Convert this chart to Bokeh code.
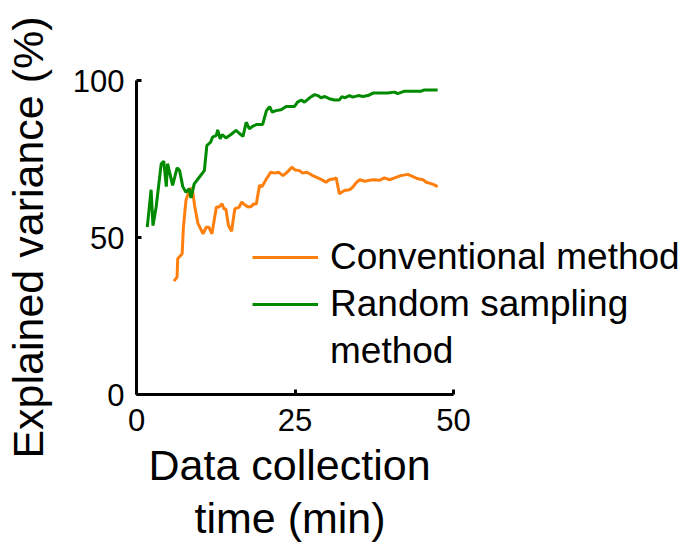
from bokeh.plotting import figure
from bokeh.models import Range1d, Legend, LegendItem, FixedTicker, Title
from bokeh.embed import file_html
from bokeh.resources import INLINE

# Conventional method (orange)
conv_time = [5.9, 6.4, 6.5, 7.2, 7.4, 7.8, 8.4, 8.8, 9.2, 9.7,
             10.5, 11.0, 11.4, 11.9, 12.6, 13.0, 13.5, 13.8, 14.1, 14.5,
             15.0, 15.5, 16.2, 16.6, 17.0, 17.6, 18.1, 18.5, 18.9, 19.4,
             19.8, 20.5, 21.2, 21.8, 22.4, 23.1, 23.6, 24.0, 24.5, 25.0,
             25.7, 26.2, 26.8, 27.3, 27.8, 28.6, 29.4, 29.9, 30.4, 31.2,
             31.5, 32.0, 32.8, 33.6, 34.1, 34.6, 35.2, 36.0, 36.7, 37.5,
             38.3, 39.1, 39.9, 40.7, 41.7, 42.8, 43.6, 44.4, 45.2, 45.7,
             46.2, 46.8, 47.5]
conv_var = [36.1, 37.4, 43.2, 44.8, 53.3, 61.8, 65.5, 65.5, 59.7, 54.4,
            51.2, 53.3, 53.3, 51.2, 59.7, 59.7, 60.7, 59.1, 59.1, 53.8,
            52.0, 59.1, 59.7, 61.3, 60.5, 59.7, 59.9, 60.7, 60.7, 66.6,
            66.2, 68.7, 70.8, 70.5, 70.8, 69.7, 70.5, 71.3, 72.4, 71.5,
            71.3, 70.5, 70.8, 70.3, 69.7, 69.0, 68.2, 67.6, 68.4, 68.7,
            69.0, 63.9, 65.0, 65.2, 66.0, 67.3, 68.4, 67.9, 68.2, 68.4,
            68.2, 69.0, 68.4, 69.0, 69.7, 70.1, 69.4, 68.7, 68.4, 67.6,
            67.3, 66.9, 66.2]

# Random sampling method (green)
rand_time = [1.7, 2.3, 2.6, 3.1, 3.9, 4.3, 4.7, 4.9, 5.7, 6.4,
             6.8, 7.3, 7.8, 8.3, 8.6, 9.1, 9.9, 10.7, 11.1, 11.7,
             12.0, 12.6, 12.8, 13.2, 13.5, 14.1, 14.9, 15.7, 16.2, 16.8,
             17.3, 17.8, 18.3, 19.0, 19.9, 20.5, 21.0, 21.4, 22.0, 22.8,
             23.6, 24.9, 25.4, 26.0, 26.5, 27.3, 28.1, 28.6, 29.1, 29.7,
             30.4, 31.2, 32.0, 32.4, 32.8, 33.6, 34.1, 35.0, 35.7, 36.5,
             37.3, 38.1, 39.6, 40.7, 41.2, 42.3, 43.8, 44.9, 45.4, 47.5]
rand_var = [53.3, 65.2, 53.8, 59.7, 73.5, 74.3, 66.2, 73.5, 66.6, 72.2,
            71.3, 66.2, 64.4, 65.5, 62.6, 67.1, 69.2, 71.3, 79.3, 80.4,
            82.0, 82.5, 84.3, 81.4, 82.8, 81.7, 82.8, 84.1, 83.2, 82.2,
            86.7, 84.6, 85.4, 86.0, 86.0, 90.4, 91.7, 89.9, 90.4, 90.7,
            91.7, 91.7, 93.1, 93.8, 93.1, 94.5, 95.5, 95.2, 94.5, 94.9,
            94.2, 93.8, 93.8, 94.9, 94.5, 95.2, 94.7, 95.2, 94.9, 95.2,
            96.0, 96.0, 96.0, 96.3, 95.8, 96.6, 96.6, 96.6, 97.0, 97.0]

x_ticks = [0, 25, 50]
y_ticks = [0, 50, 100]
x_bounds = (0, 50)
y_bounds = (0, 100)
x_label_lines = ["Data collection", "time (min)"]
y_label = "Explained variance (%)"
legend_lines = ["Conventional method", "Random sampling", "method"]

ORANGE = "#ff7f0e"
GREEN = "#008a00"
FONT = "Liberation Sans"

LEFT, TOP, BOTTOM = 132, 80, 152
FRAME_W, FRAME_H = 684 - LEFT, 314
AXIS_PX = 317          # pixel length of the 0..50 x axis
PX_PER_UNIT = AXIS_PX / (x_bounds[1] - x_bounds[0])

p = figure(frame_width=FRAME_W, frame_height=FRAME_H,
           output_backend="svg", toolbar_location=None,
           x_range=Range1d(0, FRAME_W / PX_PER_UNIT), y_range=Range1d(*y_bounds),
           min_border_left=LEFT, min_border_right=0,
           min_border_top=TOP, min_border_bottom=BOTTOM)
p.outline_line_color = None
p.grid.visible = False
p.background_fill_color = "white"
p.border_fill_color = "white"

r1 = p.line(conv_time, conv_var, line_color=ORANGE, line_width=3)
r2 = p.line(rand_time, rand_var, line_color=GREEN, line_width=3)

for ax, ticks, bnds in ((p.xaxis, x_ticks, x_bounds), (p.yaxis, y_ticks, y_bounds)):
    ax.ticker = FixedTicker(ticks=ticks)
    ax.bounds = bnds
    ax.major_tick_in = 5
    ax.major_tick_out = 0
    ax.minor_tick_in = 0
    ax.minor_tick_out = 0
    ax.axis_line_width = 3
    ax.axis_line_color = "black"
    ax.major_tick_line_width = 3
    ax.major_label_text_font = FONT
    ax.major_label_text_font_size = "31px"
    ax.major_label_text_color = "black"

p.xaxis.major_label_standoff = 14
p.yaxis.major_label_standoff = 12

p.yaxis.axis_label = y_label
p.yaxis.axis_label_text_font = FONT
p.yaxis.axis_label_text_font_size = "43px"
p.yaxis.axis_label_text_font_style = "normal"
p.yaxis.axis_label_text_color = "black"
p.yaxis.axis_label_standoff = 18

# x-axis title: two centred lines under the 0..50 span of the axis
x_label_offsets = [12, 58]     # left offsets (px) from the frame's left edge
x_label_standoffs = [11, -5]
for txt, off, so in zip(x_label_lines, x_label_offsets, x_label_standoffs):
    t = Title(text=txt, align="left", offset=off, vertical_align="bottom",
              text_font=FONT, text_font_size="43px", text_font_style="normal",
              text_color="black", standoff=so)
    p.add_layout(t, "below")

legend = Legend(items=[LegendItem(label=legend_lines[0], renderers=[r1]),
                       LegendItem(label=legend_lines[1], renderers=[r2]),
                       LegendItem(label=legend_lines[2], renderers=[])],
                location=(116, 22), glyph_width=66, glyph_height=30,
                label_standoff=12, padding=0, margin=0, spacing=5,
                border_line_color=None, background_fill_alpha=0,
                label_text_font=FONT, label_text_font_size="37px",
                label_text_color="black")
p.add_layout(legend)

open("out.html", "w").write(file_html(p, INLINE))
